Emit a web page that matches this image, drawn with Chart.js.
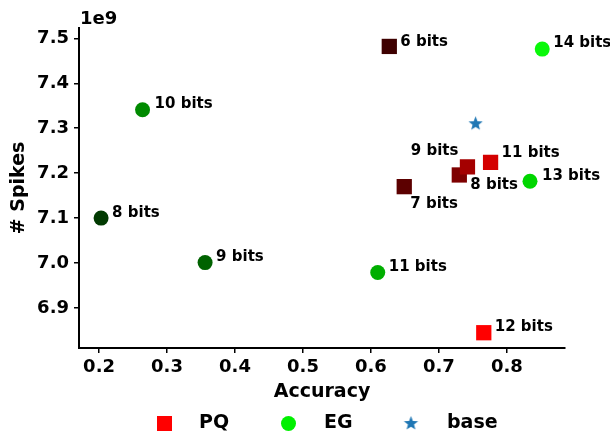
<!DOCTYPE html>
<html>
<head>
<meta charset="utf-8">
<script src="https://cdn.jsdelivr.net/npm/chart.js@4.4.0/dist/chart.umd.min.js"></script>
<style>
  html, body { margin: 0; padding: 0; background: #fff; }
  #wrap { width: 610px; height: 435px; position: relative; }
</style>
</head>
<body>
<div id="wrap"><canvas id="chart"></canvas></div>
<script>
// Accuracy vs. spike count (spikes in units of 1e9)
const pqBits = ['6 bits', '7 bits', '8 bits', '9 bits', '11 bits', '12 bits'];
const pqAccuracy = [0.627, 0.649, 0.730, 0.742, 0.776, 0.766];
const pqSpikes = [7.482, 7.170, 7.196, 7.214, 7.224, 6.845];

const egBits = ['8 bits', '9 bits', '10 bits', '11 bits', '13 bits', '14 bits'];
const egAccuracy = [0.203, 0.356, 0.264, 0.610, 0.834, 0.852];
const egSpikes = [7.100, 7.001, 7.341, 6.979, 7.182, 7.476];

const baseAccuracy = [0.754];
const baseSpikes = [7.310];

const xTickValues = [0.2, 0.3, 0.4, 0.5, 0.6, 0.7, 0.8];
const yTickValues = [6.9, 7.0, 7.1, 7.2, 7.3, 7.4, 7.5];

// Styling: per-point shades, darker for fewer bits
const pqColors = ['#3e0000', '#5c0000', '#7e0000', '#a40000', '#d40000', '#ff0000'];
const egColors = ['#013a01', '#006200', '#008a00', '#00ae00', '#00d600', '#0af80a'];
const baseColor = '#1f77b4';

// Label placement relative to each marker [dx, dy, align]
const pqLabelOffsets = [[11, -4.5, 'left'], [6, 17, 'left'], [11, 10, 'left'], [-9, -16, 'right'], [11, -9, 'left'], [11, -6, 'left']];
const egLabelOffsets = [[11, -5, 'left'], [11, -5, 'left'], [12, -6, 'left'], [11, -5, 'left'], [12, -5, 'left'], [11, -6, 'left']];

const FONT = '"DejaVu Sans", Verdana, sans-serif';

function makeStar(color, outer, inner) {
  const size = Math.ceil(outer * 2 + 2);
  const cv = document.createElement('canvas');
  cv.width = size; cv.height = size;
  const c = cv.getContext('2d');
  c.fillStyle = color;
  c.beginPath();
  for (let i = 0; i < 10; i++) {
    const r = i % 2 === 0 ? outer : inner;
    const a = -Math.PI / 2 + i * Math.PI / 5;
    const px = size / 2 + r * Math.cos(a);
    const py = size / 2 + r * Math.sin(a);
    if (i === 0) c.moveTo(px, py); else c.lineTo(px, py);
  }
  c.closePath();
  c.fill();
  return cv;
}
const starImg = makeStar(baseColor, 7.5, 3.2);

const toPoints = (xs, ys) => xs.map((x, i) => ({ x: x, y: ys[i] }));

const pointLabels = {
  id: 'pointLabels',
  afterDatasetsDraw(chart) {
    const ctx = chart.ctx;
    ctx.save();
    ctx.font = 'bold 15px ' + FONT;
    ctx.fillStyle = '#000';
    ctx.textBaseline = 'middle';
    chart.data.datasets.forEach((ds, di) => {
      if (!ds.pointText) return;
      const meta = chart.getDatasetMeta(di);
      meta.data.forEach((el, i) => {
        const off = ds.textOffsets[i];
        ctx.textAlign = off[2];
        ctx.fillText(ds.pointText[i], el.x + off[0], el.y + off[1]);
      });
    });
    ctx.restore();
  }
};

const extras = {
  id: 'extras',
  afterDraw(chart) {
    const ctx = chart.ctx;
    const area = chart.chartArea;
    ctx.save();
    // axis multiplier
    ctx.font = 'bold 18px ' + FONT;
    ctx.fillStyle = '#000';
    ctx.textAlign = 'left';
    ctx.textBaseline = 'middle';
    ctx.fillText('1e9', area.left + 1, 19);

    // legend
    const ly = 423.5;
    ctx.fillStyle = '#ff0000';
    ctx.fillRect(157, ly - 7.5, 15, 15);
    ctx.fillStyle = '#00f000';
    ctx.beginPath();
    ctx.arc(288.5, ly, 7.5, 0, Math.PI * 2);
    ctx.fill();
    ctx.drawImage(starImg, 411 - starImg.width / 2, ly - starImg.height / 2);
    ctx.fillStyle = '#000';
    ctx.font = 'bold 19px ' + FONT;
    ctx.fillText('PQ', 199, ly);
    ctx.fillText('EG', 324, ly);
    ctx.fillText('base', 447, ly);
    ctx.restore();
  }
};

const axisFont = { family: FONT, size: 18, weight: 'bold' };
const titleFont = { family: FONT, size: 19, weight: 'bold' };

new Chart(document.getElementById('chart'), {
  type: 'scatter',
  data: {
    datasets: [
      {
        label: 'base',
        data: toPoints(baseAccuracy, baseSpikes),
        pointStyle: starImg,
        backgroundColor: baseColor,
        borderColor: baseColor
      },
      {
        label: 'PQ',
        data: toPoints(pqAccuracy, pqSpikes),
        pointStyle: 'rect',
        pointRadius: 10.8,
        backgroundColor: pqColors,
        borderColor: pqColors,
        borderWidth: 0,
        pointText: pqBits,
        textOffsets: pqLabelOffsets
      },
      {
        label: 'EG',
        data: toPoints(egAccuracy, egSpikes),
        pointStyle: 'circle',
        pointRadius: 7.5,
        backgroundColor: egColors,
        borderColor: egColors,
        borderWidth: 0,
        pointText: egBits,
        textOffsets: egLabelOffsets
      }
    ]
  },
  options: {
    responsive: true,
    maintainAspectRatio: false,
    animation: false,
    layout: { padding: { top: 28, right: 45, left: 0, bottom: 0 } },
    plugins: {
      legend: { display: false },
      tooltip: { enabled: false }
    },
    scales: {
      x: {
        type: 'linear',
        min: 0.1705,
        max: 0.8855,
        afterBuildTicks: s => { s.ticks = xTickValues.map(v => ({ value: v })); },
        afterFit: s => { s.height = 87; },
        ticks: {
          color: '#000',
          font: axisFont,
          padding: 4,
          maxRotation: 0,
          callback: v => Number(v).toFixed(1)
        },
        grid: { display: true, drawOnChartArea: false, drawTicks: true, tickLength: 5, color: '#000', lineWidth: 1.5 },
        border: { display: true, color: '#000', width: 2 },
        title: { display: true, text: 'Accuracy', color: '#000', font: titleFont, padding: { top: 0, bottom: 32 } }
      },
      y: {
        type: 'linear',
        min: 6.811,
        max: 7.523,
        afterBuildTicks: s => { s.ticks = yTickValues.map(v => ({ value: v })); },
        afterFit: s => { s.width = 79; },
        ticks: {
          color: '#000',
          font: axisFont,
          padding: 5,
          callback: v => Number(v).toFixed(1)
        },
        grid: { display: true, drawOnChartArea: false, drawTicks: true, tickLength: 5, color: '#000', lineWidth: 1.5 },
        border: { display: true, color: '#000', width: 2 },
        title: { display: true, text: '# Spikes', color: '#000', font: titleFont, padding: { top: 8, bottom: 0 } }
      }
    }
  },
  plugins: [pointLabels, extras]
});
</script>
</body>
</html>
